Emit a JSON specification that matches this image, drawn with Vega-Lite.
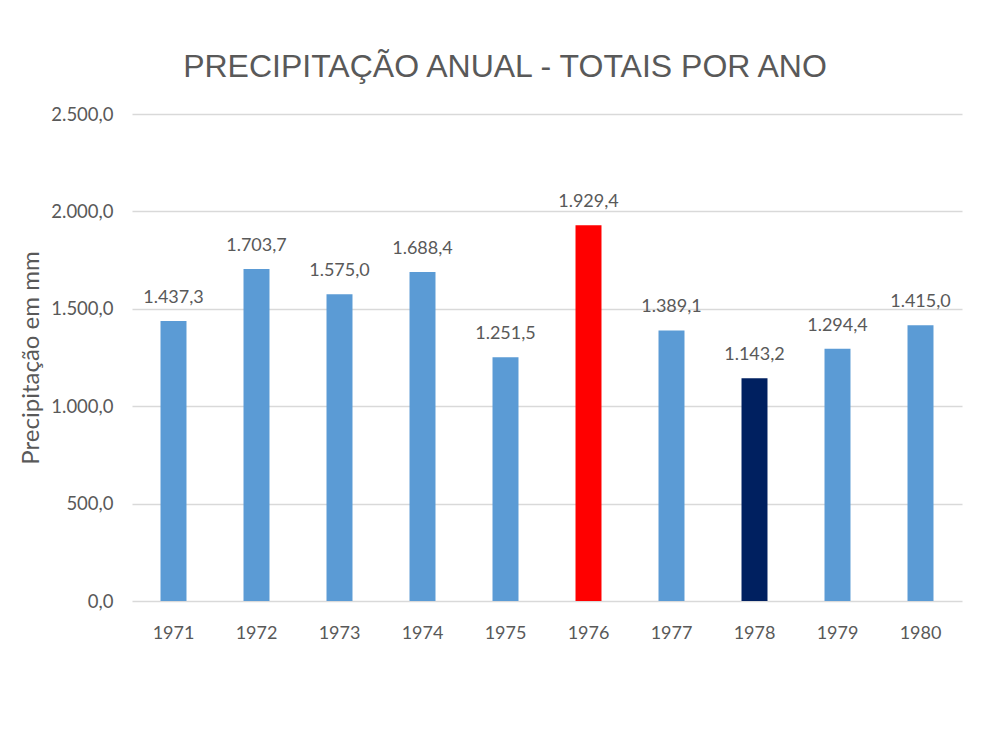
{
  "$schema": "https://vega.github.io/schema/vega-lite/v6.json",
  "autosize": {"type": "none"},
  "width": 830,
  "height": 487,
  "padding": {"left": 132, "top": 114, "right": 25, "bottom": 134},
  "background": "white",
  "config": {
    "locale": {"number": {"decimal": ",", "thousands": ".", "grouping": [3], "currency": ["R$", ""]}},
    "view": {"stroke": null},
    "font": "Lato"
  },
  "title": {
    "text": "PRECIPITAÇÃO ANUAL - TOTAIS POR ANO",
    "font": "Liberation Sans",
    "fontSize": 32,
    "fontWeight": "normal",
    "color": "#595959",
    "anchor": "middle",
    "dx": -42,
    "offset": 21
  },
  "data": {
    "values": [
      {"ano": "1971", "precipitacao": 1437.3},
      {"ano": "1972", "precipitacao": 1703.7},
      {"ano": "1973", "precipitacao": 1575.0},
      {"ano": "1974", "precipitacao": 1688.4},
      {"ano": "1975", "precipitacao": 1251.5},
      {"ano": "1976", "precipitacao": 1929.4},
      {"ano": "1977", "precipitacao": 1389.1},
      {"ano": "1978", "precipitacao": 1143.2},
      {"ano": "1979", "precipitacao": 1294.4},
      {"ano": "1980", "precipitacao": 1415.0}
    ]
  },
  "encoding": {
    "x": {
      "field": "ano",
      "type": "nominal",
      "scale": {"paddingInner": 0.687, "paddingOuter": 0.3435},
      "axis": {
        "title": null,
        "labelAngle": 0,
        "labelFont": "Lato",
        "labelFontSize": 18,
        "labelColor": "#595959",
        "labelPadding": 23,
        "ticks": false,
        "domain": false
      }
    },
    "y": {
      "field": "precipitacao",
      "type": "quantitative",
      "scale": {"domain": [0, 2500]},
      "axis": {
        "title": "Precipitação em mm",
        "titleFont": "Lato",
        "titleFontSize": 24,
        "titleFontWeight": "normal",
        "titleColor": "#595959",
        "titlePadding": 7,
        "values": [0, 500, 1000, 1500, 2000, 2500],
        "format": ",.1f",
        "labelFont": "Lato",
        "labelFontSize": 18.5,
        "labelColor": "#595959",
        "labelPadding": 19,
        "ticks": false,
        "domain": false,
        "grid": true,
        "gridColor": "#D9D9D9",
        "gridWidth": 1.5
      }
    }
  },
  "layer": [
    {
      "mark": {"type": "bar"},
      "encoding": {
        "color": {
          "condition": [
            {"test": "datum.ano == '1976'", "value": "#FF0000"},
            {"test": "datum.ano == '1978'", "value": "#002060"}
          ],
          "value": "#5B9BD5"
        }
      }
    },
    {
      "mark": {"type": "text", "baseline": "alphabetic", "dy": -18, "font": "Lato", "fontSize": 18, "color": "#595959"},
      "encoding": {
        "text": {"field": "precipitacao", "type": "quantitative", "format": ",.1f"}
      }
    }
  ]
}
